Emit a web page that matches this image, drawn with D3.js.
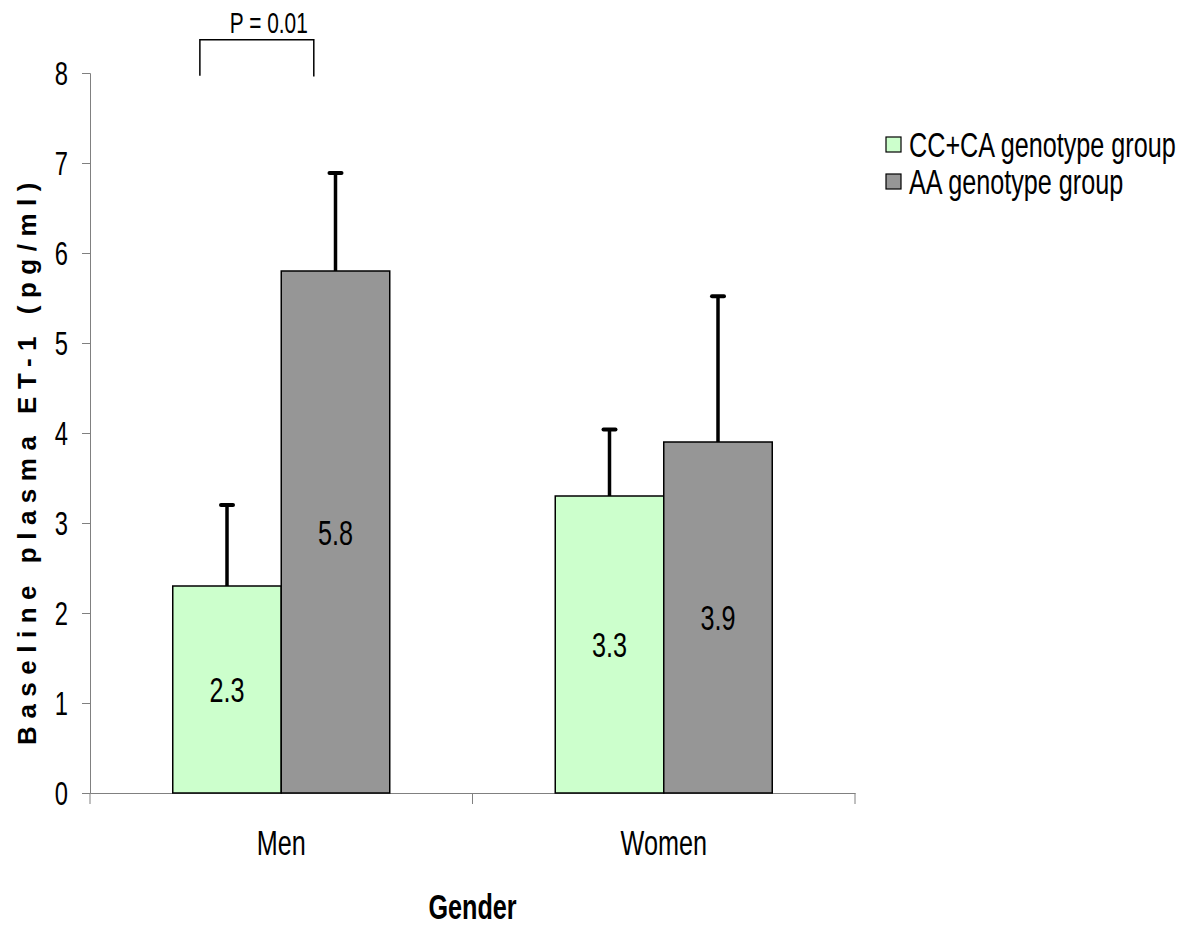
<!DOCTYPE html>
<html lang='en'>
	<head>
		<meta charset='utf-8'>
		<title>Baseline plasma ET-1 by gender</title>
		<script type='text/javascript' src='https://cdn.jsdelivr.net/npm/d3@7'></script>
		<style>
			body { margin: 0; background: #fff; }
			text { font-family: 'Liberation Sans', Arial, sans-serif; fill: #000; }
		</style>
	</head>
	<body>
	</body>
	<script type='text/javascript'>
	{
		var genders = ['Men', 'Women'];
		var groups = ['CC+CA genotype group', 'AA genotype group'];
		var means = [[2.3, 5.8], [3.3, 3.9]];      // [gender][group]
		var errTops = [[3.2, 6.89], [4.04, 5.52]];  // top of each error bar
		var yTicks = [0, 1, 2, 3, 4, 5, 6, 7, 8];
		var colours = ['#CCFFCC', '#969696'];
		var pText = 'P = 0.01';

		var width = 1203, height = 928;
		var pLeft = 90, pRight = 855, pTop = 73, pBottom = 793;
		var narrow = 0.72;  // no Arial Narrow here, so squeeze text sideways

		// turn x/y of a text into a translate + horizontal squeeze
		function squeeze(sel) {
			sel.each(function() {
				var t = d3.select(this);
				var tx = +t.attr('x') || 0, ty = +t.attr('y') || 0;
				t.attr('x', 0).attr('y', 0)
				 .attr('transform', 'translate(' + tx + ',' + ty + ') scale(' + narrow + ',1)');
			});
		}

		var svg = d3.select('body').append('svg').attr('width', width).attr('height', height)

		var x = d3.scaleBand().domain(genders).range([pLeft, pRight]).paddingInner(0).paddingOuter(0);
		var inner = d3.scaleBand().domain(groups).range([0, x.bandwidth()]).paddingInner(0).paddingOuter(0.7627);
		var y = d3.scaleLinear().domain([0, 8]).range([pBottom, pTop]);

		// y axis
		var yaxis = svg.append('g').attr('transform', 'translate(' + pLeft + ',0)')
			.call(d3.axisLeft(y).tickValues(yTicks).tickSize(8).tickPadding(14).tickFormat(d3.format('d')));
		yaxis.select('.domain').attr('stroke', '#808080');
		yaxis.selectAll('.tick line').attr('stroke', '#808080');
		yaxis.selectAll('text').attr('font-size', '33px').attr('font-family', null).attr('dy', '0.36em').call(squeeze);

		// x axis: labels at band centres, ticks at band edges
		var xaxis = svg.append('g').attr('transform', 'translate(0,' + pBottom + ')')
			.call(d3.axisBottom(x).tickSize(0).tickPadding(37));
		xaxis.select('.domain').attr('stroke', '#808080');
		xaxis.selectAll('text').attr('font-size', '35px').attr('font-family', null).call(squeeze);
		var edges = [x(genders[0])].concat(genders.map(g => x(g) + x.bandwidth()));
		xaxis.selectAll('.edge').data(edges).enter().append('line')
			.attr('x1', d => d).attr('x2', d => d).attr('y1', 0).attr('y2', 11)
			.attr('stroke', '#808080');

		// bars
		var cells = [];
		genders.forEach(function(g, i) {
			groups.forEach(function(s, j) {
				cells.push({g: g, s: s, j: j, v: means[i][j], e: errTops[i][j]});
			});
		});
		var bars = svg.append('g').selectAll('g').data(cells).enter().append('g')
			.attr('transform', d => 'translate(' + (x(d.g) + inner(d.s)) + ',0)');
		bars.append('rect')
			.attr('x', 0).attr('width', inner.bandwidth())
			.attr('y', d => y(d.v)).attr('height', d => y(0) - y(d.v))
			.attr('fill', d => colours[d.j]).attr('stroke', '#000').attr('stroke-width', 1.5);

		// error bars
		bars.append('line')
			.attr('x1', inner.bandwidth() / 2).attr('x2', inner.bandwidth() / 2)
			.attr('y1', d => y(d.v)).attr('y2', d => y(d.e))
			.attr('stroke', '#000').attr('stroke-width', 3.5);
		bars.append('line')
			.attr('x1', inner.bandwidth() / 2 - 6).attr('x2', inner.bandwidth() / 2 + 6)
			.attr('y1', d => y(d.e)).attr('y2', d => y(d.e))
			.attr('stroke', '#000').attr('stroke-width', 4).attr('stroke-linecap', 'round');

		// value labels in the middle of each bar
		bars.append('text')
			.attr('x', inner.bandwidth() / 2).attr('y', d => y(d.v / 2))
			.attr('dy', '0.36em').attr('text-anchor', 'middle').attr('font-size', '35px')
			.text(d => d.v.toFixed(1)).call(squeeze);

		// significance bracket over Men
		var bx1 = x('Men') + inner(groups[0]) + inner.bandwidth() * 0.25;
		var bx2 = x('Men') + inner(groups[1]) + inner.bandwidth() * 0.3;
		svg.append('path')
			.attr('d', 'M' + bx1 + ',' + y(7.97) + 'V' + y(8.37) + 'H' + bx2 + 'V' + y(7.96))
			.attr('fill', 'none').attr('stroke', '#000').attr('stroke-width', 1.5);
		svg.append('text')
			.attr('x', (bx1 + bx2) / 2 + 12).attr('y', 33)
			.attr('text-anchor', 'middle').attr('font-size', '29px')
			.text(pText).call(squeeze);

		// axis titles
		svg.append('text')
			.attr('x', (pLeft + pRight) / 2).attr('y', 919)
			.attr('text-anchor', 'middle').attr('font-size', '35px').attr('font-weight', 'bold')
			.text('Gender').call(squeeze);
		svg.append('text')
			.attr('transform', 'translate(36,' + 460 + ')rotate(-90)')
			.attr('text-anchor', 'middle').attr('font-size', '26px').attr('font-weight', 'bold')
			.attr('letter-spacing', '7.5px')
			.text('Baseline plasma ET-1 (pg/ml)');

		// legend
		var legend = svg.append('g').selectAll('g').data(groups).enter().append('g')
			.attr('transform', (d, i) => 'translate(886,' + (137 + i * 37) + ')');
		legend.append('rect').attr('width', 15).attr('height', 15)
			.attr('fill', (d, i) => colours[i]).attr('stroke', '#000').attr('stroke-width', 1.2);
		legend.append('text').attr('x', 23).attr('y', 7.5).attr('dy', '0.36em')
			.attr('font-size', '35px').text(d => d).call(squeeze);
	}
	</script>
</html>
